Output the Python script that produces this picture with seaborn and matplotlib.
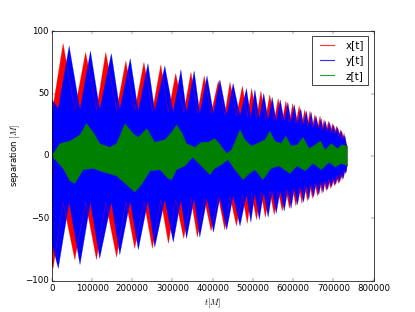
import matplotlib
matplotlib.use('Agg')
import matplotlib.pyplot as plt
import numpy as np
import seaborn as sns

# envelope turning points (time in M, separation in M)
x_t = [0, 3000, 28000, 57000, 84000, 111000, 134000, 161000, 184000, 206000, 229000,
       250000, 271000, 290000, 308000, 328000, 346000, 362000, 379000, 396000, 414000,
       430000, 443000, 459000, 474000, 486000, 497000, 509000, 520000, 531000, 542000,
       553000, 563000, 573000, 582000, 591000, 599000, 607000, 615000, 622000, 629000,
       636000, 642000, 648000, 654000, 661000, 667000, 672000, 677000, 683000, 688000,
       693000, 698000, 703000, 708000, 713000, 718000, 722000, 727000, 731000, 735000]
x_hi = [42, 40, 90, 37, 83, 37, 83, 37, 76, 36, 75, 36, 73, 35, 66, 35, 67, 34, 64, 34, 60,
        33, 59, 32, 56, 31, 54, 30, 52, 29, 49, 28, 46, 28, 44, 27, 42, 26, 40, 25, 37,
        24, 36, 23, 33, 22, 32, 21, 29, 20, 28, 19, 26, 18, 24, 16, 21, 14, 18, 10, 7]
x_lo = [-85, -90, -37, -83, -37, -83, -37, -81, -36, -74, -36, -74, -35, -70, -35, -66,
        -34, -65, -34, -60, -33, -59, -32, -56, -31, -54, -30, -51, -29, -49, -28, -47,
        -28, -44, -27, -42, -26, -40, -25, -38, -24, -36, -23, -34, -22, -32, -21, -30,
        -20, -28, -19, -26, -18, -24, -17, -22, -15, -19, -12, -14, -7]

y_t = [0, 16000, 43000, 70000, 96000, 119000, 148000, 169000, 195000, 215000, 239000,
       256000, 281000, 302000, 321000, 335000, 354000, 368000, 386000, 402000, 418000,
       435000, 451000, 468000, 484000, 495000, 505000, 516000, 527000, 538000, 548000,
       558000, 568000, 578000, 587000, 595000, 603000, 611000, 619000, 626000, 633000,
       639000, 645000, 651000, 657000, 664000, 670000, 675000, 680000, 686000, 691000,
       696000, 701000, 706000, 711000, 716000, 721000, 725000, 729000, 732000, 735000]
y_hi = [45, 38, 88, 37, 84, 37, 82, 37, 78, 36, 74, 36, 72, 35, 69, 35, 68, 34, 64, 34, 61,
        33, 58, 32, 54, 31, 53, 30, 50, 29, 47, 28, 45, 28, 43, 27, 41, 26, 38, 25, 36,
        24, 35, 23, 32, 22, 30, 21, 28, 20, 27, 19, 25, 18, 23, 16, 20, 14, 16, 11, 7]
y_lo = [-70, -90, -37, -87, -37, -82, -37, -79, -36, -75, -36, -73, -35, -69, -35, -66,
        -34, -65, -34, -61, -33, -59, -32, -56, -31, -53, -30, -51, -29, -49, -28, -46,
        -28, -44, -27, -42, -26, -39, -25, -37, -24, -35, -23, -33, -22, -31, -21, -29,
        -20, -27, -19, -25, -18, -23, -16, -21, -14, -18, -12, -13, -7]

z_hi_t = [0, 20000, 45000, 70000, 86000, 103000, 119000, 144000, 161000, 182000, 202000,
          215000, 236000, 256000, 281000, 298000, 310000, 323000, 335000, 356000, 372000,
          389000, 405000, 414000, 435000, 447000, 468000, 480000, 497000, 517000, 530000,
          542000, 555000, 570000, 582000, 595000, 610000, 625000, 640000, 655000, 668000,
          680000, 695000, 710000, 722000, 735000]
z_hi = [0, 10, 12, 17, 26, 19, 10, 7, 10, 26, 18, 15, 22, 11, 13, 19, 25, 19, 10, 7, 11,
        11, 14, 11, 2, 5, 21, 13, 8, 11, 13, 20, 12, 10, 16, 8, 9, 15, 6, 9, 12, 5, 10, 6, 9, 8]
z_lo_t = [0, 28000, 45000, 57000, 78000, 103000, 119000, 161000, 186000, 206000, 223000,
          244000, 269000, 289000, 298000, 310000, 331000, 350000, 372000, 393000, 405000,
          422000, 438000, 455000, 476000, 488000, 505000, 525000, 545000, 565000, 592000,
          610000, 630000, 650000, 670000, 690000, 705000, 720000, 735000]
z_lo = [0, -10, -20, -22, -11, -10, -12, -16, -23, -29, -23, -12, -11, -18, -19, -11, -8,
        -1, -8, -15, -10, -7, -3, -11, -19, -15, -11, -19, -10, -8, -14, -8, -12, -6, -11,
        -5, -9, -6, -8]

labels = ['x[t]', 'y[t]', 'z[t]']
colors = ['r', 'b', 'g']

plt.style.use('classic')
fig, ax = plt.subplots(figsize=(415 / 52, 312 / 52), dpi=52)
fig.patch.set_facecolor('white')

series = [(x_t, x_hi, x_t, x_lo), (y_t, y_hi, y_t, y_lo), (z_hi_t, z_hi, z_lo_t, z_lo)]
for (ht, hv, lt, lv), lab, c in zip(series, labels, colors):
    px = np.concatenate([ht, lt[::-1]])
    py = np.concatenate([hv, lv[::-1]])
    ax.fill(px, py, color=c, lw=0)
    sns.lineplot(x=ht, y=hv, color=c, lw=0.6, alpha=0.6, ax=ax)
    sns.lineplot(x=lt, y=lv, color=c, lw=0.6, alpha=0.6, ax=ax)

handles = [plt.Line2D([], [], color=c, lw=1.6, alpha=0.8) for c in colors]
ax.legend(handles, labels, loc='upper right')

ax.set_xlim(0, 800000)
ax.set_ylim(-100, 100)
ax.set_xlabel(r'$t[M]$')
ax.set_ylabel(r'separation $[M]$')

fig.savefig('out.png', dpi=52, facecolor='white')
